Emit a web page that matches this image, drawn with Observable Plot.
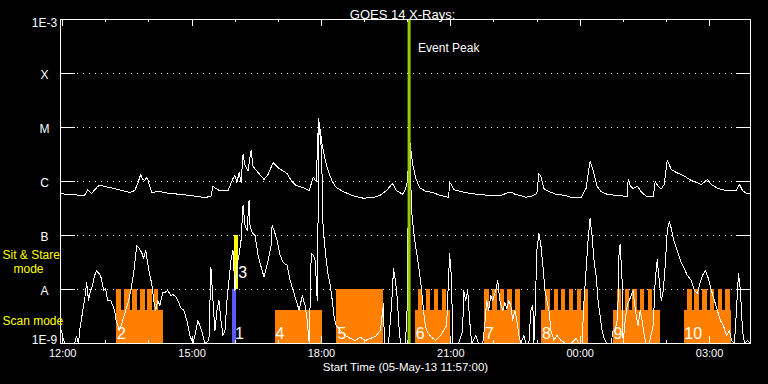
<!DOCTYPE html>
<html>
<head>
<meta charset="utf-8">
<script src="https://cdn.jsdelivr.net/npm/d3@7"></script>
<script src="https://cdn.jsdelivr.net/npm/@observablehq/plot@0.6"></script>
<style>
html,body{margin:0;padding:0;background:#000;}
#chart{width:768px;height:384px;}
</style>
</head>
<body>
<div id="chart"></div>
<script>
// ---------- data ----------
const startTime = "2013-05-05T11:57:00Z";
const endTime   = "2013-05-06T03:57:00Z";
const refTime   = "2013-05-05T12:00:00Z";   // hours below are counted from 12:00 UT
const eventPeakTime = "2013-05-05T20:02:00Z";

const chartTitle = "GOES 14 X-Rays:";
const xTitle = "Start Time (05-May-13 11:57:00)";
const eventLabel = "Event Peak";
const stareLegend = ["Sit & Stare", "mode"];
const scanLegend = "Scan mode";

const yTickValues = [1e-3, 1e-4, 1e-5, 1e-6, 1e-7, 1e-8, 1e-9];
const yTickLabels = ["1E-3", "X", "M", "C", "B", "A", "1E-9"];
const xTickHours  = [0, 3, 6, 9, 12, 15];
const xTickLabels = ["12:00", "15:00", "18:00", "21:00", "00:00", "03:00"];

// long channel [hours after 12:00 UT, flux W/m^2]
const longChannel = [[-0.05,6.0e-7],[0.159,5.7e-7],[0.392,5.6e-7],[0.508,5.5e-7],[0.578,7.1e-7],[0.671,6.0e-7],[0.787,7.7e-7],[0.857,8.6e-7],[0.973,8.1e-7],[1.206,7.4e-7],[1.438,6.6e-7],[1.555,6.25e-7],[1.671,6.8e-7],[1.741,9.2e-7],[1.810,1.35e-6],[1.857,1.09e-6],[1.903,1.04e-6],[1.950,1.19e-6],[1.973,1.09e-6],[2.020,8.1e-7],[2.066,6.3e-7],[2.253,6.5e-7],[2.485,6.0e-7],[2.717,5.8e-7],[2.950,5.5e-7],[3.183,5.2e-7],[3.299,5.06e-7],[3.438,5.3e-7],[3.485,8.2e-7],[3.555,7.4e-7],[3.648,6.7e-7],[3.834,6.8e-7],[3.903,9.2e-7],[3.950,1.14e-6],[3.996,1.29e-6],[4.043,9.6e-7],[4.090,1.47e-6],[4.136,9.6e-7],[4.183,3.2e-6],[4.229,1.98e-6],[4.299,1.6e-6],[4.369,3.75e-6],[4.415,1.9e-6],[4.531,1.47e-6],[4.671,1.09e-6],[4.764,1.35e-6],[4.880,2.25e-6],[4.996,1.8e-6],[5.206,1.4e-6],[5.299,1.04e-6],[5.415,8.4e-7],[5.578,7.7e-7],[5.717,6.8e-7],[5.810,1.2e-6],[5.880,1.0e-6],[5.934,1.47e-5],[5.973,8.8e-6],[6.020,4.6e-6],[6.090,2.45e-6],[6.159,1.55e-6],[6.252,1.0e-6],[6.345,7.7e-7],[6.508,6.5e-7],[6.717,5.5e-7],[6.973,4.9e-7],[7.206,5.06e-7],[7.369,5.6e-7],[7.508,6.8e-7],[7.648,9.2e-7],[7.741,6.8e-7],[7.880,5.8e-7],[7.950,7.1e-7],[7.996,1.04e-6],[8.020,2.25e-6],[8.059,5.06e-6],[8.113,2.15e-6],[8.183,1.19e-6],[8.276,7.7e-7],[8.415,6.6e-7],[8.578,6.25e-7],[8.764,5.5e-7],[8.950,5.06e-7],[8.973,9.6e-7],[8.996,9.2e-7],[9.066,7.1e-7],[9.229,6.5e-7],[9.462,6.0e-7],[9.694,5.7e-7],[9.927,5.5e-7],[10.159,5.5e-7],[10.276,6.0e-7],[10.392,6.4e-7],[10.508,5.7e-7],[10.624,5.5e-7],[10.741,5.1e-7],[10.857,5.3e-7],[10.996,6.0e-7],[11.043,1.4e-6],[11.090,1.24e-6],[11.159,7.4e-7],[11.276,6.5e-7],[11.438,5.8e-7],[11.671,5.5e-7],[11.787,5.1e-7],[12.020,5.06e-7],[12.136,7.4e-7],[12.229,2.35e-6],[12.299,1.6e-6],[12.392,8.1e-7],[12.485,6.5e-7],[12.648,5.7e-7],[12.787,5.6e-7],[13.090,5.3e-7],[13.113,1.09e-6],[13.159,8.4e-7],[13.229,7.4e-7],[13.322,8.2e-7],[13.415,6.5e-7],[13.531,5.3e-7],[13.694,5.3e-7],[13.741,9.9e-7],[13.810,8.1e-7],[13.880,7.3e-7],[13.950,8.8e-7],[14.020,2.45e-6],[14.113,1.68e-6],[14.229,1.47e-6],[14.392,1.29e-6],[14.578,1.04e-6],[14.741,9.3e-7],[14.810,8.8e-7],[14.950,1.09e-6],[15.043,8.8e-7],[15.183,7.5e-7],[15.392,6.8e-7],[15.624,6.8e-7],[15.694,8.8e-7],[15.764,6.8e-7],[15.857,6.0e-7],[15.95,6.0e-7]];

// short channel [hours after 12:00 UT, flux W/m^2]
const shortChannel = [[-0.027,1.74e-9],[0.020,1.14e-9],[0.066,1e-9],[0.276,1e-9],[0.322,1.35e-9],[0.369,1e-9],[0.392,1.74e-9],[0.438,2.9e-9],[0.485,5.06e-9],[0.508,6.25e-9],[0.555,1.35e-8],[0.601,6.25e-9],[0.648,9.6e-9],[0.694,1.19e-8],[0.741,1.82e-8],[0.787,2.25e-8],[0.834,2.0e-8],[0.880,1.82e-8],[0.950,9.6e-9],[0.996,1.04e-8],[1.043,6.25e-9],[1.113,6.25e-9],[1.159,5.06e-9],[1.206,4.1e-9],[1.229,2.9e-9],[1.276,2.15e-9],[1.322,1.74e-9],[1.392,2.67e-9],[1.462,4.1e-9],[1.531,6.25e-9],[1.578,9.6e-9],[1.648,2.07e-8],[1.717,6.5e-8],[1.764,6.0e-8],[1.834,4.8e-8],[1.880,3.75e-8],[1.927,5.3e-8],[1.973,3.0e-8],[2.020,1.82e-8],[2.066,1.29e-8],[2.113,6.25e-9],[2.159,4.1e-9],[2.206,6.25e-9],[2.253,5.06e-9],[2.322,8.8e-9],[2.369,8.8e-9],[2.438,9.6e-9],[2.508,7.7e-9],[2.555,8.1e-9],[2.624,7.4e-9],[2.671,6.25e-9],[2.741,4.6e-9],[2.810,4.1e-9],[2.880,2.67e-9],[2.950,1.41e-9],[3.020,1e-9],[3.066,1.41e-9],[3.136,2.67e-9],[3.206,1.9e-9],[3.252,1.41e-9],[3.299,1e-9],[3.392,1.14e-9],[3.438,2.6e-8],[3.485,6.25e-9],[3.531,1.74e-9],[3.578,4.1e-9],[3.624,6.25e-9],[3.671,2.67e-9],[3.717,1.41e-9],[3.764,1.74e-9],[3.810,6.25e-9],[3.857,1.47e-8],[3.903,3.44e-8],[3.950,5.3e-8],[3.996,9.6e-9],[4.043,2.8e-8],[4.090,4.3e-8],[4.136,8.1e-8],[4.183,3.6e-7],[4.229,1.53e-7],[4.276,1.24e-7],[4.322,4.45e-7],[4.345,1.53e-7],[4.392,1.14e-7],[4.462,1.0e-7],[4.531,4.3e-8],[4.624,2.25e-8],[4.671,1.7e-8],[4.764,3.44e-8],[4.834,6.5e-8],[4.857,1.53e-7],[4.903,1.24e-7],[4.973,8.1e-8],[5.043,4.3e-8],[5.113,3.16e-8],[5.206,2.8e-8],[5.276,1.47e-8],[5.345,9.6e-9],[5.415,6.25e-9],[5.485,4.1e-9],[5.555,7.7e-9],[5.624,5.06e-9],[5.671,2.67e-9],[5.717,1e-9],[5.764,4.6e-8],[5.810,4.3e-8],[5.857,3.44e-8],[5.903,6.25e-9],[5.945,1.09e-5],[6.003,3.75e-6],[6.038,1.53e-7],[6.066,8.1e-8],[6.113,3.44e-8],[6.159,1.82e-8],[6.206,1.19e-8],[6.252,6.25e-9],[6.299,2.9e-9],[6.345,2.15e-9],[6.438,1.74e-9],[6.555,1.41e-9],[6.671,1.24e-9],[6.787,1.14e-9],[6.903,1.3e-9],[7.020,1.14e-9],[7.136,1.24e-9],[7.252,1.35e-9],[7.369,1.74e-9],[7.438,5.4e-9],[7.462,1e-9],[7.555,1e-9],[7.601,2.67e-9],[7.648,9.6e-9],[7.671,2.45e-8],[7.717,1.47e-8],[7.764,6.25e-9],[7.787,2.67e-9],[7.834,1e-9],[7.950,1e-9],[7.996,6.25e-9],[8.020,2.45e-6],[8.055,3.75e-6],[8.090,2.9e-7],[8.136,1.24e-7],[8.183,6.5e-8],[8.252,2.8e-8],[8.299,1.47e-8],[8.345,6.25e-9],[8.392,2.67e-9],[8.438,1.74e-9],[8.531,1.35e-9],[8.648,1.14e-9],[8.764,1.41e-9],[8.903,2.15e-9],[8.927,6.25e-9],[8.973,4.6e-8],[9.020,1.47e-8],[9.043,1e-9],[9.183,1e-9],[9.276,1.74e-9],[9.299,9.6e-9],[9.345,6.25e-9],[9.392,9.6e-9],[9.438,2.67e-9],[9.485,1e-9],[9.578,1.41e-9],[9.648,1e-9],[9.741,1e-9],[9.787,2.15e-9],[9.834,6.25e-9],[9.880,4.1e-9],[9.927,7.7e-9],[9.973,6.25e-9],[10.043,9.6e-9],[10.090,1.47e-8],[10.136,6.25e-9],[10.206,4.1e-9],[10.252,5.7e-9],[10.299,4.45e-9],[10.345,6.25e-9],[10.392,5.06e-9],[10.438,2.67e-9],[10.485,4.1e-9],[10.531,2.67e-9],[10.578,1.41e-9],[10.624,1e-9],[10.694,1.41e-9],[10.741,1e-9],[10.810,1e-9],[10.857,4.1e-9],[10.903,5.06e-9],[10.927,1e-9],[10.950,2.67e-9],[10.996,5.3e-8],[11.043,1.1e-7],[11.090,6.5e-8],[11.136,2.8e-8],[11.183,9.6e-9],[11.229,6.25e-9],[11.276,4.1e-9],[11.322,1.74e-9],[11.392,1.14e-9],[11.462,1.41e-9],[11.555,1.14e-9],[11.671,1e-9],[11.787,1e-9],[11.903,1.24e-9],[11.973,1e-9],[12.043,1e-9],[12.090,6.25e-9],[12.136,2.25e-8],[12.183,8.1e-8],[12.229,2.07e-7],[12.276,1.0e-7],[12.322,3.44e-8],[12.369,1.82e-8],[12.415,6.25e-9],[12.462,3.3e-9],[12.508,1.74e-9],[12.555,1.24e-9],[12.624,1e-9],[12.717,1e-9],[12.764,1.74e-9],[12.810,1.74e-9],[12.857,2.67e-9],[12.880,6.25e-9],[12.903,5.3e-8],[12.927,7.0e-8],[12.973,1.47e-8],[12.996,1e-9],[13.043,2.67e-9],[13.090,5.06e-9],[13.136,6.25e-9],[13.183,7.7e-9],[13.229,9.6e-9],[13.252,6.25e-9],[13.299,3.3e-9],[13.345,2.15e-9],[13.392,4.1e-9],[13.438,2.67e-9],[13.485,1.41e-9],[13.531,1e-9],[13.601,1e-9],[13.694,2.15e-9],[13.741,1.47e-8],[13.787,3.6e-8],[13.834,1.47e-8],[13.880,6.25e-9],[13.927,9.6e-9],[13.973,2.8e-8],[14.020,1.24e-7],[14.066,1.8e-7],[14.113,1.35e-7],[14.159,8.8e-8],[14.252,5.3e-8],[14.345,3.16e-8],[14.415,2.45e-8],[14.485,1.82e-8],[14.578,1.47e-8],[14.648,9.6e-9],[14.717,8.4e-9],[14.764,1.19e-8],[14.834,1.82e-8],[14.904,2.25e-8],[14.973,1.6e-8],[15.043,9.6e-9],[15.113,6.25e-9],[15.183,4.1e-9],[15.252,2.67e-9],[15.322,2.15e-9],[15.392,1.41e-9],[15.462,1.74e-9],[15.508,1.14e-9],[15.578,1e-9],[15.624,4.1e-9],[15.671,1.98e-8],[15.717,9.6e-9],[15.764,1.74e-9],[15.811,1e-9],[15.881,1.14e-9],[15.95,1e-9]];

// observation intervals [start hour, end hour] after 12:00 UT
const scanIntervals = [[1.259,2.338],[4.927,6.036],[8.183,8.996],[9.771,10.608],[11.113,12.199],[12.764,13.857],[14.415,15.509]];
const stareIntervals = [[1.259,1.369],[1.445,1.562],[1.631,1.734],[1.803,1.910],[1.973,2.073],[2.136,2.222],
  [6.345,7.431],
  [8.259,8.352],[8.438,8.538],[8.617,8.717],[8.799,8.899],
  [9.787,9.897],[9.973,10.073],[10.152,10.245],[10.322,10.422],[10.508,10.608],
  [11.206,11.322],[11.399,11.492],[11.571,11.671],[11.748,11.850],[11.927,12.020],[12.097,12.199],
  [12.857,12.966],[13.043,13.152],[13.222,13.322],[13.399,13.501],[13.578,13.678],
  [14.485,14.594],[14.655,14.764],[14.841,14.943],[15.020,15.120],[15.199,15.299],[15.369,15.478]];
const scanMarker  = [3.940, 4.020];   // blue
const stareMarker = [3.996, 4.066];   // yellow
const scanTop = 4.1e-9, stareTop = 1e-8, markerTop = 1e-7, fluxFloor = 1e-9;

const obsLabels = ["2", "1", "3", "4", "5", "6", "7", "8", "9", "10"];
const obsLabelHours = [1.259, 3.996, 4.073, 4.938, 6.376, 8.19, 9.794, 11.113, 12.775, 14.415];
const obsLabelFlux  = [1.53e-9, 1.53e-9, 2.07e-8, 1.53e-9, 1.53e-9, 1.53e-9, 1.53e-9, 1.53e-9, 1.53e-9, 1.53e-9];

// ---------- build ----------
const t0 = new Date(refTime).getTime();
const T = h => new Date(t0 + h * 3600e3);
const longData  = longChannel.map(([h, f]) => ({t: T(h), f}));
const shortData = shortChannel.map(([h, f]) => ({t: T(h), f}));
const scanData  = scanIntervals.map(([a, b]) => ({a: T(a), b: T(b)}));
const stareData = stareIntervals.map(([a, b]) => ({a: T(a), b: T(b)}));
const labelData = obsLabels.map((s, i) => ({s, t: T(obsLabelHours[i]), f: obsLabelFlux[i]}));
const xMajor = xTickHours.map(T);
const xMinor = d3.range(0, 16).map(T);
const yMid = yTickValues.slice(1, -1);
const yLabel = d => yTickLabels[yTickValues.findIndex(v => Math.abs(Math.log10(v) - Math.log10(d)) < 1e-6)];
const xLabel = d => xTickLabels[xMajor.findIndex(v => +v === +d)];

const W = 768, H = 384, mL = 60, mR = 18, mT = 19, mB = 41;
const iW = W - mL - mR, iH = H - mT - mB;
const white = "#ffffff", orange = "#ff8000";

const chart = Plot.plot({
  width: W, height: H,
  marginLeft: mL, marginRight: mR, marginTop: mT, marginBottom: mB,
  style: {background: "#000", color: white, fontFamily: "'Liberation Sans', Arial, sans-serif", fontSize: "11px", overflow: "visible"},
  x: {type: "utc", domain: [new Date(startTime), new Date(endTime)], axis: null, label: null},
  y: {type: "log", domain: [1e-9, 1e-3], clamp: true, axis: null, label: null},
  marks: [
    // dotted grid and short solid ticks
    Plot.gridY(yMid, {stroke: white, strokeOpacity: 1, strokeDasharray: "1,5", insetLeft: 17, insetRight: 16}),
    Plot.gridY(yMid, {stroke: white, strokeOpacity: 1, insetRight: iW - 15, shapeRendering: "crispEdges"}),
    Plot.gridY(yMid, {stroke: white, strokeOpacity: 1, insetLeft: iW - 14, shapeRendering: "crispEdges"}),
    // observation blocks
    Plot.rect(scanData, {x1: "a", x2: "b", y1: fluxFloor, y2: scanTop, fill: orange, shapeRendering: "crispEdges"}),
    Plot.rect(stareData, {x1: "a", x2: "b", y1: fluxFloor, y2: stareTop, fill: orange, shapeRendering: "crispEdges"}),
    Plot.rect([scanMarker], {x1: d => T(d[0]), x2: d => T(d[1]), y1: fluxFloor, y2: stareTop, fill: "#5a5aff", shapeRendering: "crispEdges"}),
    Plot.rect([stareMarker], {x1: d => T(d[0]), x2: d => T(d[1]), y1: stareTop, y2: markerTop, fill: "#ffff00", shapeRendering: "crispEdges"}),
    // curves
    Plot.line(longData, {x: "t", y: "f", stroke: white, strokeWidth: 1, shapeRendering: "crispEdges"}),
    Plot.line(shortData, {x: "t", y: "f", stroke: white, strokeWidth: 1, shapeRendering: "crispEdges"}),
    // event peak
    Plot.ruleX([new Date(eventPeakTime)], {stroke: "#99cc00", strokeWidth: 3}),
    Plot.text([new Date(eventPeakTime)], {x: d => d, text: () => eventLabel, frameAnchor: "top", dy: 24, dx: 9, textAnchor: "start", fill: white, fontSize: 12}),
    // observation numbers
    Plot.text(labelData, {x: "t", y: "f", text: "s", textAnchor: "start", fill: white, fontSize: 16}),
    // frame and x ticks
    Plot.frame({stroke: white, shapeRendering: "crispEdges"}),
    Plot.gridX(xMinor, {stroke: white, strokeOpacity: 1, insetBottom: iH - 3, shapeRendering: "crispEdges"}),
    Plot.gridX(xMajor, {stroke: white, strokeOpacity: 1, insetBottom: iH - 7, shapeRendering: "crispEdges"}),
    Plot.gridX(xMinor, {stroke: white, strokeOpacity: 1, insetTop: iH - 3, shapeRendering: "crispEdges"}),
    Plot.gridX(xMajor, {stroke: white, strokeOpacity: 1, insetTop: iH - 7, shapeRendering: "crispEdges"}),
    // axis labels
    Plot.axisX(xMajor, {tickSize: 0, tickPadding: 6, tickFormat: xLabel, fontSize: 11, fill: white, label: null}),
    Plot.axisY(yMid, {tickSize: 0, tickPadding: 16, textAnchor: "middle", tickFormat: yLabel, dy: 1.5, fontSize: 12, fill: white, label: null}),
    Plot.axisY([1e-3], {tickSize: 0, tickPadding: 16, textAnchor: "middle", tickFormat: yLabel, dy: 4, fontSize: 12, fill: white, label: null}),
    Plot.axisY([1e-9], {tickSize: 0, tickPadding: 16, textAnchor: "middle", tickFormat: yLabel, dy: -3, fontSize: 12, fill: white, label: null}),
    // titles
    Plot.text([chartTitle], {frameAnchor: "top", dy: -9.5, dx: -3, fontSize: 13, fill: white}),
    Plot.text([xTitle], {frameAnchor: "bottom", dy: 27, fontSize: 11.5, fill: white}),
    // mode legend
    Plot.text([stareLegend[0]], {frameAnchor: "bottom-left", dx: -58, dy: -85, textAnchor: "start", fill: "#ffff00", fontSize: 12}),
    Plot.text([stareLegend[1]], {frameAnchor: "bottom-left", dx: -47, dy: -71, textAnchor: "start", fill: "#ffff00", fontSize: 12}),
    Plot.text([scanLegend], {frameAnchor: "bottom-left", dx: -58, dy: -19, textAnchor: "start", fill: "#ffff00", fontSize: 12})
  ]
});
document.getElementById("chart").appendChild(chart);
</script>
</body>
</html>
